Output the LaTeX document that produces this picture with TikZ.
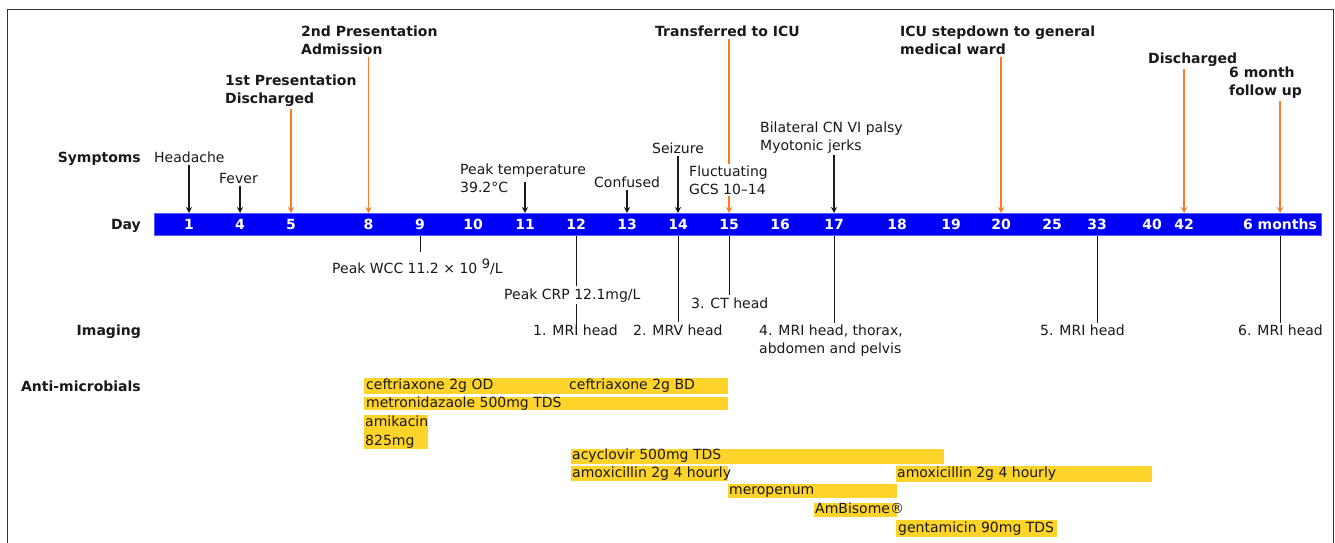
\documentclass[tikz,border=0pt]{standalone}
\usepackage{fontspec}
\setmainfont{DejaVu Sans}
\usetikzlibrary{arrows.meta}
\definecolor{barblue}{RGB}{0,0,250}
\definecolor{baredge}{RGB}{90,90,255}
\definecolor{evorange}{RGB}{255,120,35}
\definecolor{drug}{RGB}{255,212,42}
\definecolor{ink}{RGB}{25,25,25}
\definecolor{framec}{RGB}{50,50,50}
\begin{document}
\begin{tikzpicture}[x=1pt,y=-1pt,
  font=\fontsize{14}{18}\selectfont,
  txt/.style={inner sep=0pt, anchor=base west, text=ink},
  txtml/.style={inner sep=0pt, anchor=north west, align=left, text=ink},
  evlbl/.style={txt, font=\fontsize{14}{18}\selectfont\bfseries},
  evlblml/.style={txtml, font=\fontsize{14}{18}\selectfont\bfseries},
  rowlbl/.style={inner sep=0pt, anchor=base east, text=ink, font=\fontsize{14}{18}\selectfont\bfseries},
  daynum/.style={inner sep=0pt, text=white, font=\fontsize{14}{18}\selectfont\bfseries},
  evarrow/.style={draw=evorange, line width=1.3pt, -{Stealth[length=6pt,width=6pt]}, shorten <=2pt},
  symarrow/.style={draw=ink, line width=1.3pt, -{Stealth[length=6pt,width=6pt]}, shorten <=2pt},
  vline/.style={draw=ink, line width=1pt},
  drugbar/.style={fill=drug, draw=none, inner sep=0pt, anchor=north west},
  drugtxt/.style={inner sep=0pt, anchor=west, text=ink, text height=10.6pt, text depth=3.3pt}
]
\useasboundingbox (0,0) rectangle (1335,543);
\fill[white] (0,0) rectangle (1335,543);
\draw[framec, line width=1pt] (7.5,543) -- (7.5,10) -- (1333.5,10) -- (1333.5,543);

% ---------- day bar ----------
\node[fill=barblue, draw=baredge, line width=0.8pt, inner sep=0pt, anchor=north west,
      minimum width=1167pt, minimum height=22pt] (bar) at (154,213) {};
\node[daynum] (d1)  at (189,224)  {1};
\node[daynum] (d4)  at (240,224)  {4};
\node[daynum] (d5)  at (291,224)  {5};
\node[daynum] (d8)  at (368.5,224) {8};
\node[daynum] (d9)  at (420,224)  {9};
\node[daynum] (d10) at (473,224)  {10};
\node[daynum] (d11) at (525,224)  {11};
\node[daynum] (d12) at (576,224)  {12};
\node[daynum] (d13) at (627,224)  {13};
\node[daynum] (d14) at (678,224)  {14};
\node[daynum] (d15) at (729,224)  {15};
\node[daynum] (d16) at (780,224)  {16};
\node[daynum] (d17) at (834,224)  {17};
\node[daynum] (d18) at (897,224)  {18};
\node[daynum] (d19) at (951,224)  {19};
\node[daynum] (d20) at (1001,224) {20};
\node[daynum] (d25) at (1052,224) {25};
\node[daynum] (d33) at (1097,224) {33};
\node[daynum] (d40) at (1152,224) {40};
\node[daynum] (d42) at (1184,224) {42};
\node[daynum] (d6m) at (1280,224) {6 months};

% ---------- row labels ----------
\node[rowlbl] (rsym) at (141,162) {Symptoms};
\node[rowlbl] (rday) at (141,229) {Day};
\node[rowlbl] (rimg) at (141,335) {Imaging};
\node[rowlbl] (ranti) at (141,391) {Anti-microbials};

% ---------- events ----------
\node[evlblml] (adm)  at (301,26)   {2nd Presentation\\Admission};
\node[evlblml] (dis1) at (225,75)   {1st Presentation\\Discharged};
\node[evlbl]   (icu)  at (655,36.7) {Transferred to ICU};
\node[evlblml] (stepd) at (900,26)  {ICU stepdown to general\\medical ward};
\node[evlbl]   (dis2) at (1148,63.3) {Discharged};
\node[evlblml] (fu)   at (1229,66.8) {6 month\\follow up};

% ---------- symptoms ----------
\node[txt]   (head)  at (154,162.7) {Headache};
\node[txt]   (fev)   at (219,183.3) {Fever};
\node[txtml] (ptemp) at (460,163.7) {Peak temperature\\39.2°C};
\node[txt]   (conf)  at (594,187.7) {Confused};
\node[txt]   (seiz)  at (652,153.3) {Seizure};
\node[txtml] (bil)   at (760,121.4) {Bilateral CN VI palsy\\Myotonic jerks};

\draw[symarrow] (head.south -| d1) -- (d1 |- bar.north);
\draw[symarrow] (fev.south -| d4) -- (d4 |- bar.north);
\draw[symarrow] ([yshift=-16pt]ptemp.north -| d11) -- (d11 |- bar.north);
\draw[symarrow] (conf.south -| d13) -- (d13 |- bar.north);
\draw[symarrow] (seiz.south -| d14) -- (d14 |- bar.north);
\draw[symarrow] (bil.south -| d17) -- (d17 |- bar.north);

% event arrows
\draw[evarrow] (adm.south -| d8) -- (d8 |- bar.north);
\draw[evarrow] (dis1.south -| d5) -- (d5 |- bar.north);
\draw[evarrow] (icu.south -| d15) -- (d15 |- bar.north);
\draw[evarrow] (stepd.south -| d20) -- (d20 |- bar.north);
\draw[evarrow] (dis2.south -| d42) -- (d42 |- bar.north);
\draw[evarrow] (fu.south -| d6m) -- (d6m |- bar.north);

% label drawn over the ICU arrow
\node[txtml, fill=white, inner sep=1.5pt] (gcs) at (687.5,163.9) {Fluctuating\\GCS 10–14};

% ---------- below the bar ----------
\node[txt] (wcc) at (332,273.3) {Peak WCC 11.2 × 10 \raisebox{5pt}{\fontsize{13}{13}\selectfont 9}/L};
\node[txt] (mri1) at (533,335) {1. MRI head};
\node[txt] (mrv)  at (633,335) {2. MRV head};
\node[txt] (ct)   at (691,308.3) {3. CT head};
\node[txtml] (mri4) at (759,324.4) {4. MRI head, thorax,\\abdomen and pelvis};
\node[txt] (mri5) at (1040,335) {5. MRI head};
\node[txt] (mri6) at (1238,335) {6. MRI head};

\draw[vline, shorten >=6pt] (d9 |- bar.south) -- (wcc.north -| d9);
\draw[vline, shorten >=-2.5pt] (d12 |- bar.south) -- (mri1.north -| d12);
\node[txt, fill=white, inner ysep=2.5pt, inner xsep=0pt] (crp) at (504,299) {Peak CRP 12.1mg/L};
\draw[vline, shorten >=2pt] (d14 |- bar.south) -- (mrv.north -| d14);
\draw[vline, shorten >=2.5pt] (d15 |- bar.south) -- (ct.north -| d15);
\draw[vline, shorten >=1.5pt] (d17 |- bar.south) -- (mri4.north -| d17);
\draw[vline, shorten >=1.5pt] (d33 |- bar.south) -- (mri5.north -| d33);
\draw[vline, shorten >=1.5pt] (d6m |- bar.south) -- (mri6.north -| d6m);

% ---------- anti-microbials ----------
\node[drugbar, minimum width=364pt, minimum height=16pt] (ceft) at (364,378) {};
\node[drugtxt] (ceftod) at ([xshift=2pt]ceft.west) {ceftriaxone 2g OD};
\node[drugtxt] (ceftbd) at (569,386) {ceftriaxone 2g BD};

\node[drugbar, minimum width=364pt, minimum height=13.5pt] (metro) at (364,396.5) {};
\node[drugtxt] (metrot) at ([xshift=2pt]metro.west) {metronidazaole 500mg TDS};

\node[drugbar, minimum width=64pt, minimum height=34pt] (amik) at (364,414.3) {};
\node[txtml, font=\fontsize{14}{19}\selectfont] (amikt) at (365,415.4) {amikacin\\825mg};

\node[drugbar, minimum width=373pt, minimum height=15pt] (acyc) at (571,448.3) {};
\node[drugtxt] (acyct) at ([xshift=1pt]acyc.west) {acyclovir 500mg TDS};

\node[drugbar, minimum width=157pt, minimum height=15pt] (amox1) at (571,466) {};
\node[drugtxt] (amox1t) at ([xshift=1pt]amox1.west) {amoxicillin 2g 4 hourly};

\node[drugbar, minimum width=256pt, minimum height=16pt] (amox2) at (896,466) {};
\node[drugtxt] (amox2t) at ([xshift=1pt]amox2.west) {amoxicillin 2g 4 hourly};

\node[drugbar, minimum width=169pt, minimum height=14.5pt] (mero) at (728,483.3) {};
\node[drugtxt] (merot) at ([xshift=1pt]mero.west) {meropenum};

\node[drugbar, minimum width=83pt, minimum height=14pt] (ambi) at (814,503) {};
\node[drugtxt] (ambit) at ([xshift=1pt]ambi.west) {AmBisome®};

\node[drugbar, minimum width=161pt, minimum height=17pt] (gent) at (896,520) {};
\node[drugtxt] (gentt) at ([xshift=2pt]gent.west) {gentamicin 90mg TDS};
\end{tikzpicture}
\end{document}
